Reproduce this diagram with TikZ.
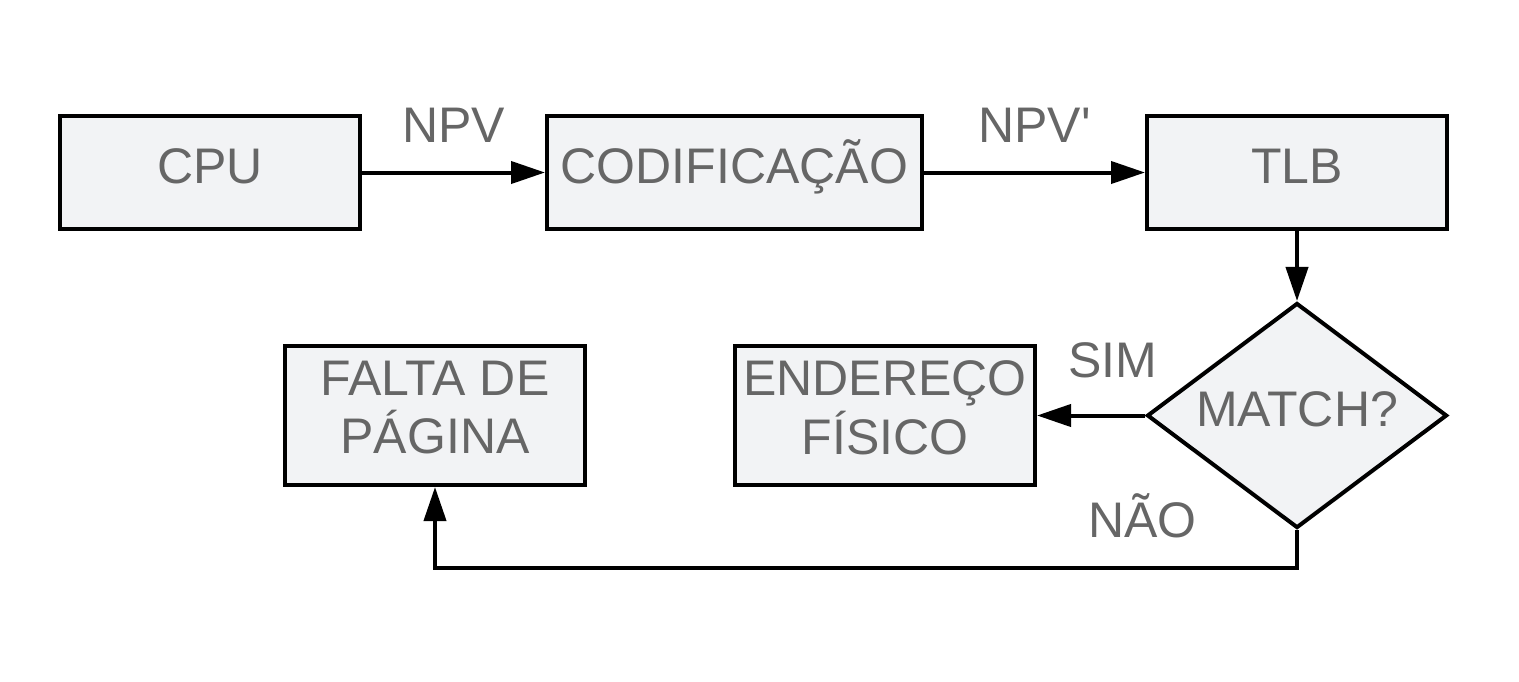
\documentclass[tikz,border=0pt]{standalone}
\usepackage{fontspec}
\setmainfont{Liberation Sans}
\usetikzlibrary{shapes.geometric,arrows.meta,positioning}
\definecolor{BoxCol}{HTML}{F2F3F5}
\definecolor{TextCol}{HTML}{666666}
\tikzset{
  flow box/.style={
    shape = rectangle,
    draw,
    line width=2pt,
    fill = BoxCol,
    text = TextCol,
    inner sep=2pt,
    font=\fontsize{25}{29.2}\selectfont,
    },
  one line/.style ={
    flow box,
    minimum width=#1,
    minimum height=56.5pt,
    text height=17.5pt,
    text depth=6.7pt,
    },
  two lines/.style ={
    flow box,
    align=center,
    minimum width=150pt,
    minimum height=69.5pt,
    text depth=8pt,
    },
  decision/.style ={
    flow box,
    diamond,
    aspect=1.333,
    inner sep=0pt,
    minimum width=150pt,
    minimum height=112.5pt,
    text height=17.5pt,
    text depth=6.7pt,
  },
  flow label/.style={
    text=TextCol,
    inner sep=0pt,
    font=\fontsize{25}{29.2}\selectfont,
  },
}
\tikzstyle{FlowA} = [-{Triangle[length=17pt,width=11pt]},line width=2pt]

\begin{document}
\begin{tikzpicture}

    \useasboundingbox (0,0) rectangle (759.5pt,-340.5pt);

    \node[one line=150pt] (cpu) at (105pt,-86.25pt) {CPU};
    \node[one line=187.5pt, right=91.5pt of cpu] (cod) {CODIFICAÇÃO};
    \node[one line=150pt, right=110.5pt of cod] (tlb) {TLB};

    \node[decision, below=35pt of tlb] (match) {MATCH?};
    \node[two lines, left=54pt of match] (end) {ENDEREÇO\\FÍSICO};
    \node[two lines, left=73pt of end] (falta) {FALTA DE\\PÁGINA};

    % Steps

    \draw[FlowA] (cpu) -- node[flow label, above=13.85pt] {NPV} (cod);
    \draw[FlowA] (cod) -- node[flow label, above=13.85pt] {NPV\textquotesingle} (tlb);
    \draw[FlowA] (tlb) -- (match);

    \draw[FlowA] (match) -- node[flow label, pos=.3, above=18pt] {SIM} (end);
    \draw[FlowA] (match.south) -- ++(0,-19pt) coordinate (turn) -| (falta.south);
    \node[flow label, above left=14.7pt and 50pt of turn] (nao) {NÃO};

\end{tikzpicture}
\end{document}
